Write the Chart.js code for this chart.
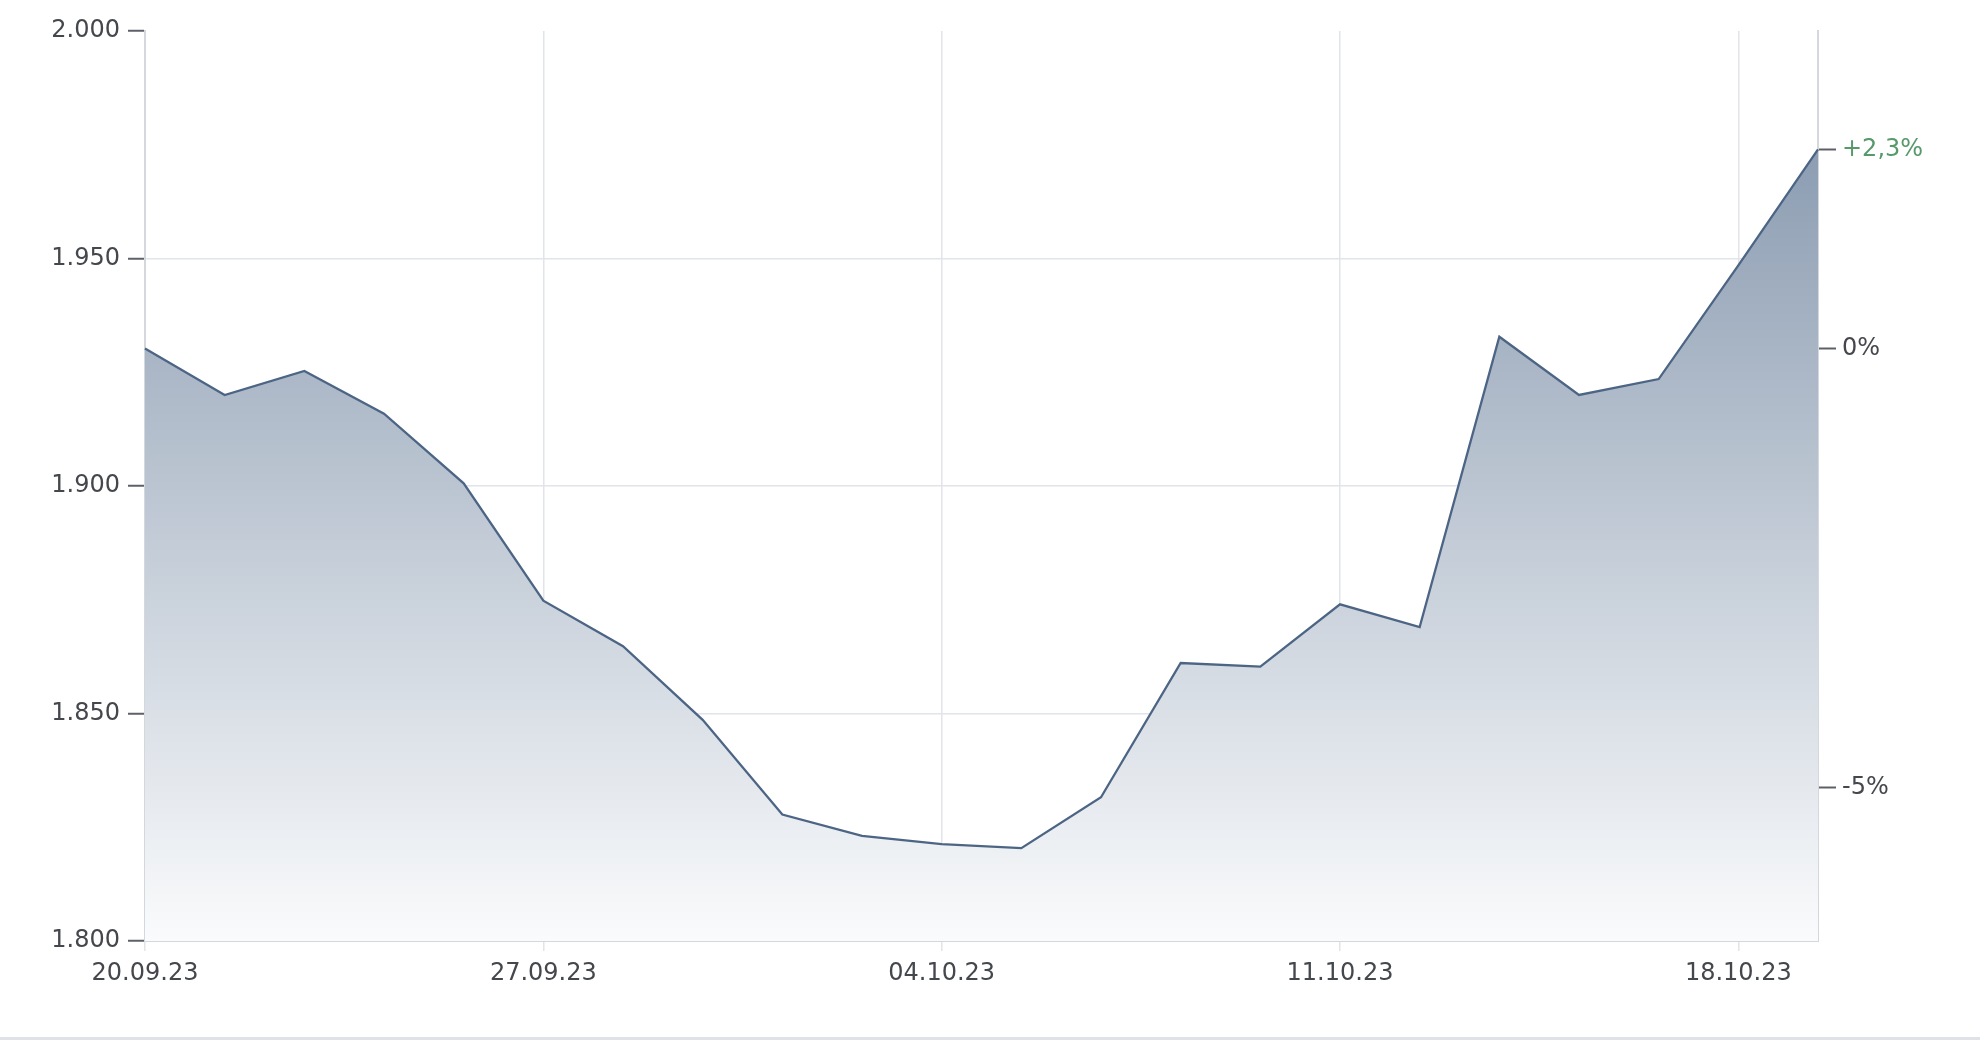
<!DOCTYPE html>
<html>
<head>
<meta charset="utf-8">
<script src="https://cdn.jsdelivr.net/npm/chart.js@4/dist/chart.umd.min.js"></script>
<style>
  html, body { margin: 0; padding: 0; background: #fff; }
  #wrap { position: relative; width: 1980px; height: 1040px; }
  #line { position: absolute; left: 0; right: 0; top: 1037px; height: 3px; background: #dfe3e7; }
</style>
</head>
<body>
<div id="wrap">
  <canvas id="c" width="1980" height="1040"></canvas>
  <div id="line"></div>
</div>
<script>
const dates = ["20.09.23","21.09.23","22.09.23","25.09.23","26.09.23","27.09.23","28.09.23","29.09.23",
  "02.10.23","03.10.23","04.10.23","05.10.23","06.10.23","09.10.23","10.10.23","11.10.23",
  "12.10.23","13.10.23","16.10.23","17.10.23","18.10.23","19.10.23"];
const prices = [1930.2,1920.0,1925.3,1915.9,1900.6,1874.8,1864.8,1848.6,1827.8,1823.1,1821.3,1820.4,
  1831.6,1861.1,1860.3,1874.0,1869.0,1932.8,1920.0,1923.5,1948.5,1974.0];
const yTicks = [1800,1850,1900,1950,2000];
const pctTicks = [-5, 0];

const basePrice = prices[0];
const lastPrice = prices[prices.length - 1];

function deFmt(v) {
  const k = Math.floor(v / 1000);
  const r = Math.round(v - k * 1000);
  return k + '.' + String(r).padStart(3, '0');
}
function pctFmt(p) {
  let s = (Math.round(p * 10) / 10).toFixed(1).replace('.', ',');
  if (s.endsWith(',0')) s = s.slice(0, -2);
  if (s === '-0') s = '0';
  return (p > 0.05 ? '+' : '') + s + '%';
}

const FONT = { family: 'DejaVu Sans', size: 24 };
const GRID = '#e1e4e8';
const BORDER = '#d4d8dd';
const TXT = '#44474c';
const GREEN = '#56996a';

const ctx = document.getElementById('c').getContext('2d');
new Chart(ctx, {
  type: 'line',
  data: {
    labels: dates,
    datasets: [{
      data: prices,
      borderColor: '#4d6585',
      borderWidth: 2.3,
      pointRadius: 0,
      tension: 0,
      fill: 'start',
      backgroundColor: (c) => {
        const area = c.chart.chartArea;
        if (!area) return 'rgba(124,143,167,0.5)';
        const g = c.chart.ctx.createLinearGradient(0, area.top, 0, area.bottom);
        g.addColorStop(0, 'rgb(124,143,167)');
        g.addColorStop(1, 'rgb(250,251,252)');
        return g;
      }
    }]
  },
  options: {
    responsive: false,
    animation: false,
    layout: { padding: { top: 31, left: 0, right: 0, bottom: 0 } },
    plugins: { legend: { display: false }, tooltip: { enabled: false } },
    scales: {
      x: {
        type: 'category',
        offset: false,
        border: { display: true, color: BORDER, width: 2 },
        grid: { color: GRID, lineWidth: 1.5, tickLength: 10, tickColor: GRID },
        ticks: {
          autoSkip: false, maxRotation: 0, minRotation: 0,
          font: FONT, color: TXT, padding: 8,
          callback: function(v, i) { return i % 5 === 0 ? dates[i] : null; }
        },
        afterFit: (s) => { s.height = 99; }
      },
      y: {
        position: 'left',
        min: 1800, max: 2000,
        border: { display: true, color: BORDER, width: 2 },
        grid: {
          color: (c) => (c.tick && c.tick.value === 2000) ? 'rgba(0,0,0,0)' : GRID,
          lineWidth: 1.5, tickLength: 17, tickColor: '#5d6066', tickWidth: 2
        },
        afterBuildTicks: (s) => { s.ticks = yTicks.map(v => ({ value: v })); },
        ticks: { font: FONT, color: TXT, padding: 8, callback: (v) => deFmt(v) },
        afterFit: (s) => { s.width = 145; }
      },
      y2: {
        position: 'right',
        min: 1800, max: 2000,
        border: { display: true, color: BORDER, width: 2 },
        grid: { drawOnChartArea: false, tickLength: 18, tickColor: '#5d6066', tickWidth: 2 },
        afterBuildTicks: (s) => {
          const t = pctTicks.map(p => ({ value: basePrice * (1 + p / 100) }));
          t.push({ value: lastPrice });
          s.ticks = t;
        },
        ticks: {
          font: FONT, padding: 6,
          color: (c) => (c.tick && Math.abs(c.tick.value - lastPrice) < 1e-6) ? GREEN : TXT,
          callback: (v) => pctFmt((v / basePrice - 1) * 100)
        },
        afterFit: (s) => { s.width = 162; }
      }
    }
  }
});
</script>
</body>
</html>
